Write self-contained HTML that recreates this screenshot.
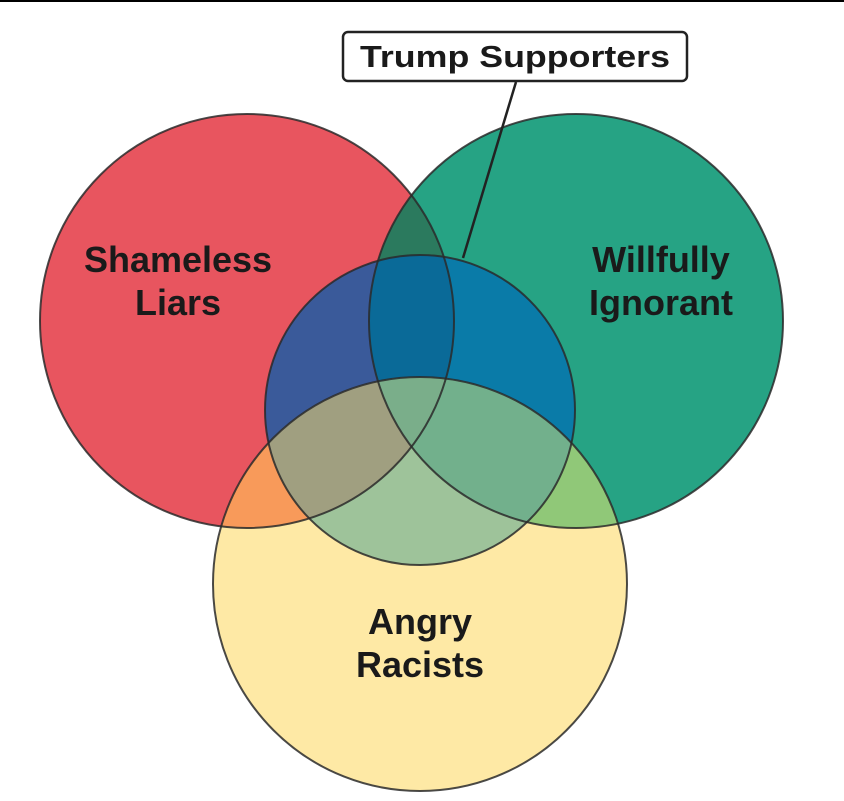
<!DOCTYPE html>
<html><head><style>html,body{margin:0;padding:0;background:#fff;width:844px;height:801px;overflow:hidden}</style></head>
<body>
<svg width="844" height="801" viewBox="0 0 844 801" xmlns="http://www.w3.org/2000/svg">
<defs>
<clipPath id="cr"><circle cx="247" cy="321" r="207"/></clipPath>
<clipPath id="cg"><circle cx="576" cy="321" r="207"/></clipPath>
<clipPath id="cb"><circle cx="420" cy="410" r="155"/></clipPath>
<clipPath id="cy"><circle cx="420" cy="584" r="207"/></clipPath>
</defs>
<rect x="0" y="0" width="844" height="2" fill="#000"/>
<circle cx="247" cy="321" r="207" fill="#e8555f"/>
<circle cx="576" cy="321" r="207" fill="#26a384"/>
<g clip-path="url(#cr)"><circle cx="576" cy="321" r="207" fill="#2b7a5e"/></g>
<circle cx="420" cy="410" r="155" fill="#3a5a9a"/>
<g clip-path="url(#cr)"><circle cx="420" cy="410" r="155" fill="#3a5a9a"/></g>
<g clip-path="url(#cg)"><circle cx="420" cy="410" r="155" fill="#0a7ba8"/></g>
<g clip-path="url(#cg)"><g clip-path="url(#cr)"><circle cx="420" cy="410" r="155" fill="#0a6a98"/></g></g>
<circle cx="420" cy="584" r="207" fill="#fee9a5"/>
<g clip-path="url(#cr)"><circle cx="420" cy="584" r="207" fill="#f89a5a"/></g>
<g clip-path="url(#cg)"><circle cx="420" cy="584" r="207" fill="#90c878"/></g>
<g clip-path="url(#cb)"><circle cx="420" cy="584" r="207" fill="#9ec39a"/></g>
<g clip-path="url(#cb)"><g clip-path="url(#cr)"><circle cx="420" cy="584" r="207" fill="#a09f80"/></g></g>
<g clip-path="url(#cb)"><g clip-path="url(#cg)"><circle cx="420" cy="584" r="207" fill="#72b08c"/></g></g>
<g clip-path="url(#cb)"><g clip-path="url(#cg)"><g clip-path="url(#cr)"><circle cx="420" cy="584" r="207" fill="#7aae8a"/></g></g></g>
<g fill="none" stroke="#2a2a2a" stroke-width="2" stroke-opacity="0.85">
<circle cx="247" cy="321" r="207"/>
<circle cx="576" cy="321" r="207"/>
<circle cx="420" cy="410" r="155"/>
<circle cx="420" cy="584" r="207"/>
</g>
<line x1="516" y1="82" x2="463" y2="258" stroke="#222" stroke-width="2.5"/>
<rect x="343" y="32" width="344" height="49" rx="5" fill="#fff" stroke="#222" stroke-width="2.5"/>
<g font-family="Liberation Sans, sans-serif" font-weight="bold" fill="#1a1a1a" text-anchor="middle">
<text x="515" y="67" font-size="31" textLength="310" lengthAdjust="spacingAndGlyphs">Trump Supporters</text>
<text x="178" y="272" font-size="36">Shameless</text>
<text x="178" y="315" font-size="36">Liars</text>
<text x="661" y="272" font-size="36">Willfully</text>
<text x="661" y="315" font-size="36">Ignorant</text>
<text x="420" y="634" font-size="36">Angry</text>
<text x="420" y="677" font-size="36">Racists</text>
</g>
</svg>
</body></html>
